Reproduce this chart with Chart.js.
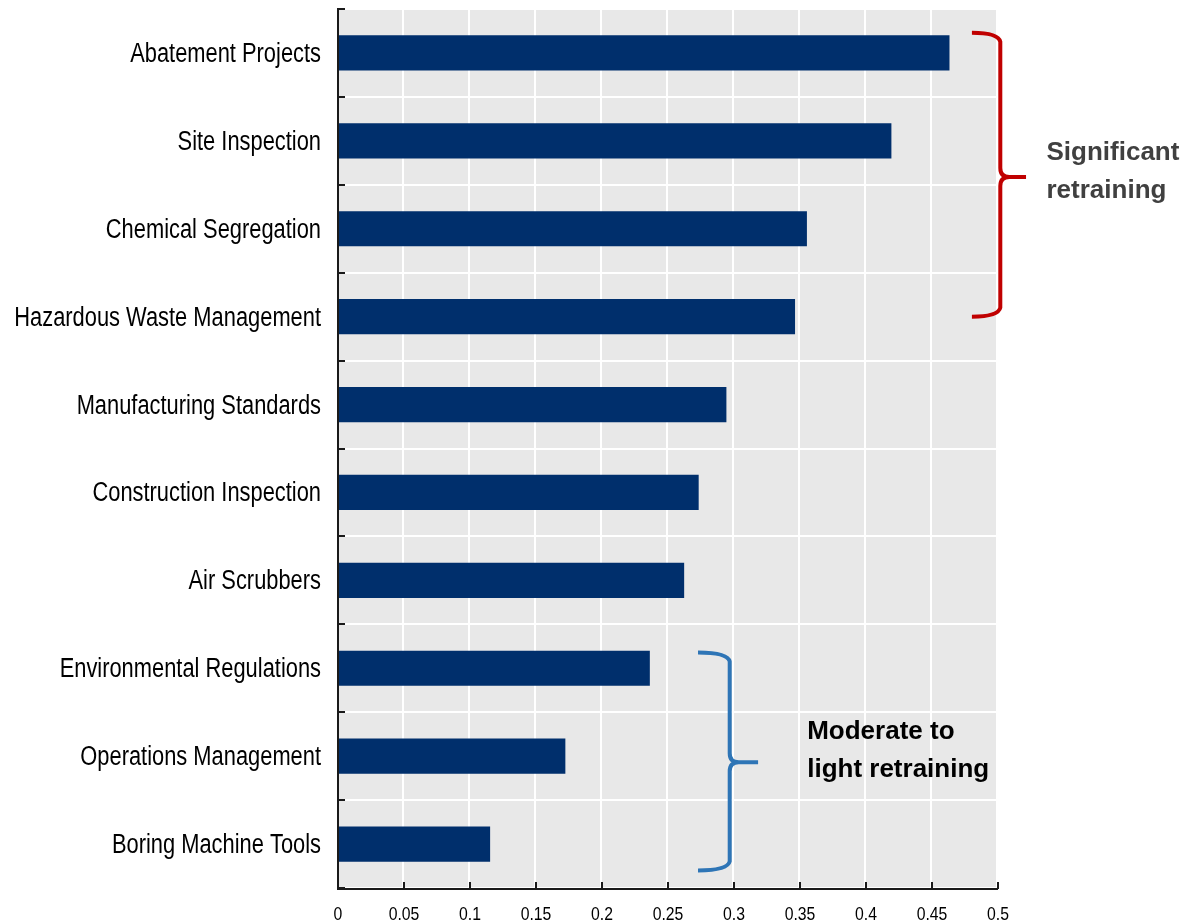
<!DOCTYPE html>
<html lang="en">
<head>
<meta charset="UTF-8">
<title>Retraining needs by skill</title>
<style>
  body { margin: 0; background: #fff; }
  #wrap { width: 1189px; height: 924px; }
</style>
</head>
<body>
<div id="wrap"><canvas id="chart" width="1189" height="924"></canvas></div>
<script src="https://cdn.jsdelivr.net/npm/chart.js"></script>
<script>
// data
const categories = [
  'Abatement Projects', 'Site Inspection', 'Chemical Segregation',
  'Hazardous Waste Management', 'Manufacturing Standards', 'Construction Inspection',
  'Air Scrubbers', 'Environmental Regulations', 'Operations Management', 'Boring Machine Tools'
];
const values = [0.464, 0.420, 0.356, 0.347, 0.295, 0.274, 0.263, 0.237, 0.173, 0.116];
const xTicks = [0, 0.05, 0.1, 0.15, 0.2, 0.25, 0.3, 0.35, 0.4, 0.45, 0.5];

// brace annotations, in data units (x value, y category index)
const braces = [
  { color: '#c00000', arm: 0.481, spine: 0.5025, tip: 0.522, top: -0.23, mid: 1.41, bottom: 3.0,
    lines: ['Significant', 'retraining'], textColor: '#404040', textX: 0.5375, textY: 1.22 },
  { color: '#2e75b6', arm: 0.2735, spine: 0.2975, tip: 0.319, top: 6.82, mid: 8.07, bottom: 9.3,
    lines: ['Moderate to', 'light retraining'], textColor: '#000', textX: 0.3562, textY: 7.8 }
];

// no narrow font installed, so tick labels are squeezed horizontally by hand
const baseFont = "'Liberation Sans', Arial, sans-serif";
function narrowText(ctx, text, x, y, size, squeeze, align) {
  ctx.save();
  ctx.translate(x, y);
  ctx.scale(squeeze, 1);
  ctx.font = size + 'px ' + baseFont;
  ctx.textAlign = align;
  ctx.textBaseline = 'alphabetic';
  ctx.fillText(text, 0, 0);
  ctx.restore();
}

const plotBg = {
  id: 'plotBg',
  beforeDraw(chart) {
    const { ctx, chartArea: a } = chart;
    ctx.save();
    ctx.fillStyle = '#e8e8e8';
    ctx.fillRect(a.left, a.top, a.right - a.left, a.bottom - a.top);
    ctx.restore();
  }
};

// black axes with inward ticks, labels and braces, drawn over the grid
const axesAndBraces = {
  id: 'axesAndBraces',
  afterDraw(chart) {
    const { ctx, chartArea: a, scales: { x, y } } = chart;
    ctx.save();
    ctx.strokeStyle = '#1a1a1a';
    ctx.lineWidth = 2;
    ctx.beginPath();
    ctx.moveTo(a.left + 1, a.top);
    ctx.lineTo(a.left + 1, a.bottom + 1);
    ctx.lineTo(a.right + 1, a.bottom + 1);
    for (let i = 0; i <= categories.length; i++) {
      const py = Math.round(y.getPixelForValue(i - 0.5));
      ctx.moveTo(a.left, py);
      ctx.lineTo(a.left + 8, py);
    }
    xTicks.forEach(v => {
      const px = Math.round(x.getPixelForValue(v)) + 1;
      ctx.moveTo(px, a.bottom + 1);
      ctx.lineTo(px, a.bottom - 6);
    });
    ctx.stroke();

    ctx.fillStyle = '#000';
    categories.forEach((c, i) => {
      narrowText(ctx, c, a.left - 16, y.getPixelForValue(i) + 9, 27, 0.81, 'right');
    });
    xTicks.forEach(v => {
      narrowText(ctx, String(v), x.getPixelForValue(v) + 1, a.bottom + 32, 19, 0.83, 'center');
    });

    braces.forEach(b => {
      const xa = x.getPixelForValue(b.arm), xs = x.getPixelForValue(b.spine), xt = x.getPixelForValue(b.tip);
      const yt = y.getPixelForValue(b.top), ym = y.getPixelForValue(b.mid), yb = y.getPixelForValue(b.bottom);
      const r = 9;
      ctx.strokeStyle = b.color;
      ctx.lineWidth = 4;
      ctx.beginPath();
      ctx.moveTo(xa, yt);
      ctx.quadraticCurveTo(xs - 2, yt, xs, yt + r);
      ctx.lineTo(xs, ym - r);
      ctx.quadraticCurveTo(xs, ym, xs + r, ym);
      ctx.lineTo(xt, ym);
      ctx.moveTo(xs + r, ym);
      ctx.quadraticCurveTo(xs, ym, xs, ym + r);
      ctx.lineTo(xs, yb - r);
      ctx.quadraticCurveTo(xs - 2, yb, xa, yb);
      ctx.stroke();

      ctx.fillStyle = b.textColor;
      ctx.font = 'bold 26px ' + baseFont;
      ctx.textAlign = 'left';
      ctx.textBaseline = 'alphabetic';
      const tx = x.getPixelForValue(b.textX), ty = y.getPixelForValue(b.textY);
      b.lines.forEach((t, i) => ctx.fillText(t, tx, ty + i * 38));
    });
    ctx.restore();
  }
};

new Chart(document.getElementById('chart'), {
  type: 'bar',
  data: {
    labels: categories,
    datasets: [{
      data: values,
      backgroundColor: '#002f6c',
      barPercentage: 0.4,
      categoryPercentage: 1.0
    }]
  },
  options: {
    indexAxis: 'y',
    responsive: false,
    animation: false,
    layout: { padding: { top: 9, right: 192, left: 0, bottom: 0 } },
    plugins: { legend: { display: false }, tooltip: { enabled: false } },
    scales: {
      x: {
        min: 0,
        max: 0.5,
        afterBuildTicks: s => { s.ticks = xTicks.map(v => ({ value: v })); },
        ticks: { display: false },
        grid: { color: '#fff', lineWidth: 2, drawTicks: false },
        border: { display: false },
        afterFit: s => { s.height = 36; }
      },
      y: {
        grid: { color: '#fff', lineWidth: 2, drawTicks: false, offset: true },
        border: { display: false },
        ticks: { display: false },
        afterFit: s => { s.width = 337; }
      }
    }
  },
  plugins: [plotBg, axesAndBraces]
});
</script>
</body>
</html>
